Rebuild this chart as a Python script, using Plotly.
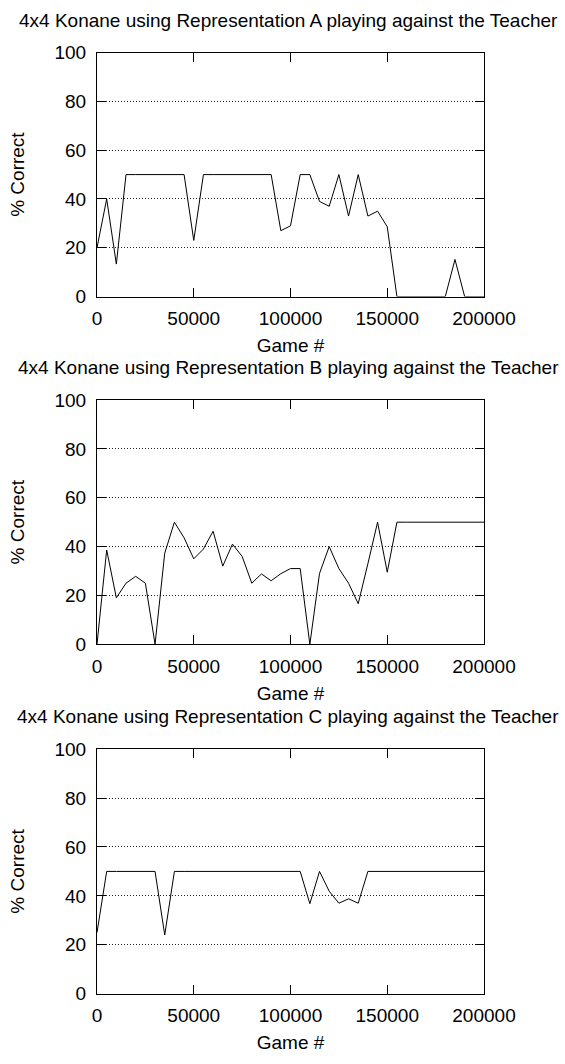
import plotly.graph_objects as go

# Games played (x) — one evaluation every 5000 games
games = list(range(0, 200001, 5000))

# % correct for each representation
rep_a = [20, 40, 13.3, 50, 50, 50, 50, 50, 50, 50, 23, 50, 50, 50, 50, 50, 50, 50, 50, 27,
         29, 50, 50, 39, 37, 50, 33, 50, 33, 35, 28.6, 0, 0, 0, 0, 0, 0, 15.2, 0, 0, 0]
rep_b = [0, 38.6, 19, 25, 27.8, 25, 0, 37.3, 50, 43.6, 35, 39, 46.3, 32, 41, 36, 25, 28.8, 26, 28.9,
         31, 31, 0, 29, 40, 31, 25, 16.6, 33, 50, 29.5, 50, 50, 50, 50, 50, 50, 50, 50, 50, 50]
rep_c = [25, 50, 50, 50, 50, 50, 50, 24, 50, 50, 50, 50, 50, 50, 50, 50, 50, 50, 50, 50,
         50, 50, 36.8, 50, 41.9, 37, 38.8, 37, 50, 50, 50, 50, 50, 50, 50, 50, 50, 50, 50, 50, 50]

titles = [
    "4x4 Konane using Representation A playing against the Teacher",
    "4x4 Konane using Representation B playing against the Teacher",
    "4x4 Konane using Representation C playing against the Teacher",
]
series = [rep_a, rep_b, rep_c]

x_ticks = [0, 50000, 100000, 150000, 200000]
y_ticks = [0, 20, 40, 60, 80, 100]

W, H = 565, 1064
FONT = "Liberation Sans, Arial, Helvetica, sans-serif"
FS = 19

# plot-area vertical extents in pixels (top, bottom)
panels = [(43.5, 292.3), (398, 647), (754, 1003.5)]
LEFT, RIGHT = 97, 484.5

fig = go.Figure()
for i, (vals, title, (top, bot)) in enumerate(zip(series, titles, panels)):
    n = "" if i == 0 else str(i + 1)
    fig.add_trace(go.Scatter(
        x=games, y=vals, mode="lines",
        line=dict(color="black", width=1),
        xaxis="x" + n, yaxis="y" + n, showlegend=False,
    ))
    dom = [1 - bot / H, 1 - top / H]
    fig.layout["xaxis" + n] = dict(
        anchor="y" + n, domain=[0, 1], range=[0, 200000],
        tickvals=x_ticks, ticktext=[str(v) for v in x_ticks],
        ticks="inside", ticklen=9, tickcolor="black", tickwidth=1,
        showline=True, linecolor="black", linewidth=1, mirror="ticks",
        showgrid=False, zeroline=False,
        title=dict(text="Game #", font=dict(size=FS, color="black"), standoff=10),
        tickfont=dict(size=FS, color="black"),
        ticklabelstandoff=5,
    )
    fig.layout["yaxis" + n] = dict(
        anchor="x" + n, domain=dom, range=[0, 100],
        tickvals=y_ticks,
        ticks="inside", ticklen=9, tickcolor="black", tickwidth=1,
        showline=True, linecolor="black", linewidth=1, mirror="ticks",
        showgrid=True, gridcolor="#222", gridwidth=1, griddash="1px,2px",
        zeroline=False,
        title=dict(text="% Correct", font=dict(size=FS, color="black"), standoff=24),
        tickfont=dict(size=FS, color="black"),
        ticklabelstandoff=6,
    )
    fig.add_annotation(
        text=title, xref="paper", yref="paper",
        x=(288.5 - LEFT) / (RIGHT - LEFT), y=1 - (top - 33) / H,
        xanchor="center", yanchor="middle", showarrow=False,
        font=dict(size=FS, color="black", family=FONT),
    )

fig.update_layout(
    width=W, height=H,
    margin=dict(l=LEFT, r=W - RIGHT, t=0, b=0),
    paper_bgcolor="white", plot_bgcolor="white",
    font=dict(family=FONT, size=FS, color="black"),
)

fig.write_html("out.html")
